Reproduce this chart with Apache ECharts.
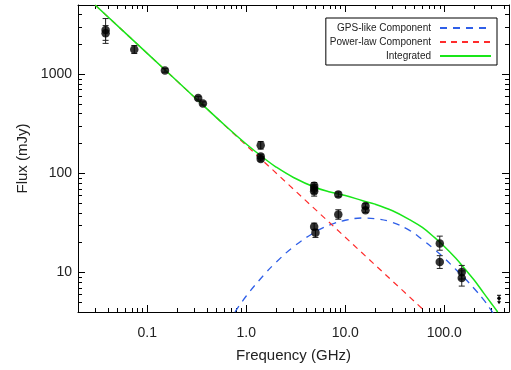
<!DOCTYPE html>
<html><head><meta charset="utf-8">
<script src="https://cdn.jsdelivr.net/npm/echarts@6/dist/echarts.min.js"></script>
<style>html,body{margin:0;padding:0;background:#fff}#c{width:511px;height:370px}</style>
</head><body><div id="c"></div>
<script>
// ---- measured data (GHz, mJy) ----
const obsFreq   = [0.038, 0.038, 0.074, 0.151, 0.327, 0.365, 1.4, 1.4, 1.4, 4.85, 4.85, 4.85, 4.85, 5.0, 8.5, 8.5, 16, 16, 90, 90, 150, 150];
const obsFlux   = [2800, 2600, 1775, 1095, 575, 508, 192, 148, 140, 75, 70, 66, 29, 25.2, 61.4, 38.5, 47, 42.5, 19.6, 12.8, 10.1, 8.8];
const obsLow    = [2200, 2050, 1620, 1050, 550, 490, 176, 141, 133, 68, 63, 59, 27, 22.6, 58, 34.5, 44.5, 40.5, 16.8, 11.0, 8.6, 7.3];
const obsHigh   = [3650, 3100, 1950, 1140, 600, 527, 210, 156, 147, 81, 77, 73, 31.5, 27.3, 65, 43, 49.5, 45, 23.3, 14.8, 11.8, 10.4];
const limitFreq = [357];
const limitFlux = [5.5];

// ---- model curves ----
const gpsFreq  = [0.77, 1.0, 1.5, 2, 3, 5, 7, 10, 15, 20, 30, 45, 60, 80, 100, 130, 160, 200, 250, 300, 320];
const gpsFlux  = [4.0, 5.8, 9.4, 12.7, 18.2, 25.8, 30.2, 33.7, 35.5, 35.0, 32.0, 26.5, 21.5, 17.0, 14.0, 10.8, 8.8, 6.9, 5.3, 4.1, 3.7];
const plawFreq = [0.0298, 0.1, 1, 10, 65];
const plawFlux = [5000, 1626, 192, 22.7, 4.0];
const intFreq  = [0.0298, 0.1, 0.3, 0.6, 1.0, 1.5, 2, 3, 5, 7, 10, 15, 20, 30, 45, 60, 80, 100, 130, 160, 200, 250, 300, 346];
const intFlux  = [5000, 1626, 587, 310, 198, 143, 116, 91, 72, 65, 60, 53, 49, 42, 34, 28.5, 22.5, 18.3, 14, 11, 8.4, 6.2, 4.85, 4.0];

// ---- axis ticks ----
const xMajor = [0.1, 1, 10, 100];
const xMinor = [0.02,0.03,0.04,0.05,0.06,0.07,0.08,0.09,0.2,0.3,0.4,0.5,0.6,0.7,0.8,0.9,2,3,4,5,6,7,8,9,20,30,40,50,60,70,80,90,200,300,400];
const yMajor = [10, 100, 1000];
const yMinor = [4,5,6,7,8,9,20,30,40,50,60,70,80,90,200,300,400,500,600,700,800,900,2000,3000,4000,5000];

const FONT = 'Liberation Sans';
const X_MIN = 0.02, X_MAX = 450, Y_MIN = 4, Y_MAX = 5000;

function mkAxis(pos, isX, ticks, len, showLine, showLabel) {
  return {
    type: 'log', logBase: 10, position: pos,
    min: isX ? X_MIN : Y_MIN, max: isX ? X_MAX : Y_MAX,
    splitLine: { show: false },
    axisLine: { show: showLine, lineStyle: { color: '#000', width: 1 } },
    axisTick: { show: true, inside: true, length: len, customValues: ticks, lineStyle: { color: '#000', width: 1 } },
    axisLabel: { show: showLabel, customValues: showLabel ? ticks : undefined, color: '#222', fontFamily: FONT, fontSize: 14,
      margin: isX ? 14 : 6,
      formatter: isX ? (v => Number(v).toFixed(1)) : (v => String(Math.round(v))) },
    axisPointer: { show: false }
  };
}

const xAxes = [
  Object.assign(mkAxis('bottom', true, xMajor, 7, true, true), {
    name: 'Frequency (GHz)', nameLocation: 'middle', nameGap: 36,
    nameTextStyle: { fontFamily: FONT, fontSize: 15, color: '#222' } }),
  mkAxis('bottom', true, xMinor, 4, false, false),
  mkAxis('top', true, xMajor, 7, true, false),
  mkAxis('top', true, xMinor, 4, false, false)
];
const yAxes = [
  Object.assign(mkAxis('left', false, yMajor, 7, true, true), {
    name: 'Flux (mJy)', nameLocation: 'middle', nameGap: 48,
    nameTextStyle: { fontFamily: FONT, fontSize: 15, color: '#222' } }),
  mkAxis('left', false, yMinor, 4, false, false),
  mkAxis('right', false, yMajor, 7, true, false),
  mkAxis('right', false, yMinor, 4, false, false)
];

function zip(a, b) { return a.map((v, i) => [v, b[i]]); }

const chart = echarts.init(document.getElementById('c'), null, { renderer: 'canvas' });
chart.setOption({
  animation: false,
  backgroundColor: '#fff',
  grid: { left: 78, right: 2, top: 5, bottom: 58, containLabel: false },
  xAxis: xAxes,
  yAxis: yAxes,
  legend: {
    data: ['GPS-like Component', 'Power-law Component', 'Integrated'],
    orient: 'vertical', right: 14, top: 18, align: 'right',
    itemWidth: 51, itemHeight: 10, itemGap: 0,
    padding: [3, 5, 2, 4],
    borderColor: '#000', borderWidth: 1, borderRadius: 0,
    backgroundColor: '#fff',
    selectedMode: false,
    itemStyle: { opacity: 0 },
    textStyle: { fontFamily: FONT, fontSize: 10, color: '#222', lineHeight: 14, padding: [0, 4, 0, 0] }
  },
  series: [
    { name: 'GPS-like Component', type: 'line', data: zip(gpsFreq, gpsFlux), symbol: 'none', smooth: 0.4,
      color: '#2f5fe8', lineStyle: { color: '#2f5fe8', width: 1.3, type: [7, 6] }, z: 3 },
    { name: 'Power-law Component', type: 'line', data: zip(plawFreq, plawFlux), symbol: 'none', smooth: false,
      color: '#ff2b2b', lineStyle: { color: '#ff2b2b', width: 1.2, type: [6, 5] }, z: 3 },
    { name: 'Integrated', type: 'line', data: zip(intFreq, intFlux), symbol: 'none', smooth: 0.4,
      color: '#19e619', lineStyle: { color: '#19e619', width: 1.5 }, z: 4 },
    { name: 'errbars', type: 'custom', z: 5,
      data: obsFreq.map((f, i) => [f, obsFlux[i], obsLow[i], obsHigh[i]]),
      encode: { x: 0, y: 1 },
      renderItem: function (params, api) {
        const x = api.value(0);
        const t = api.coord([x, api.value(3)]);
        const b = api.coord([x, api.value(2)]);
        const w = 3;
        const st = { stroke: '#222', lineWidth: 1 };
        return { type: 'group', children: [
          { type: 'line', shape: { x1: t[0], y1: t[1], x2: b[0], y2: b[1] }, style: st },
          { type: 'line', shape: { x1: t[0] - w, y1: t[1], x2: t[0] + w, y2: t[1] }, style: st },
          { type: 'line', shape: { x1: b[0] - w, y1: b[1], x2: b[0] + w, y2: b[1] }, style: st }
        ] };
      }
    },
    { name: 'points', type: 'scatter', data: zip(obsFreq, obsFlux), symbol: 'circle', symbolSize: 8.5,
      itemStyle: { color: '#000' }, z: 6 },
    { name: 'limit', type: 'custom', z: 6,
      data: zip(limitFreq, limitFlux),
      encode: { x: 0, y: 1 },
      renderItem: function (params, api) {
        const p = api.coord([api.value(0), api.value(1)]);
        const st = { stroke: '#000', lineWidth: 1 };
        return { type: 'group', children: [
          { type: 'line', shape: { x1: p[0] - 2, y1: p[1] - 3, x2: p[0] + 2, y2: p[1] - 3 }, style: st },
          { type: 'line', shape: { x1: p[0], y1: p[1] - 3, x2: p[0], y2: p[1] + 4 }, style: st },
          { type: 'circle', shape: { cx: p[0], cy: p[1], r: 1.8 }, style: { fill: '#000' } },
          { type: 'polygon', shape: { points: [[p[0] - 2, p[1] + 3], [p[0] + 2, p[1] + 3], [p[0], p[1] + 6]] }, style: { fill: '#000' } }
        ] };
      }
    }
  ]
});
</script></body></html>
